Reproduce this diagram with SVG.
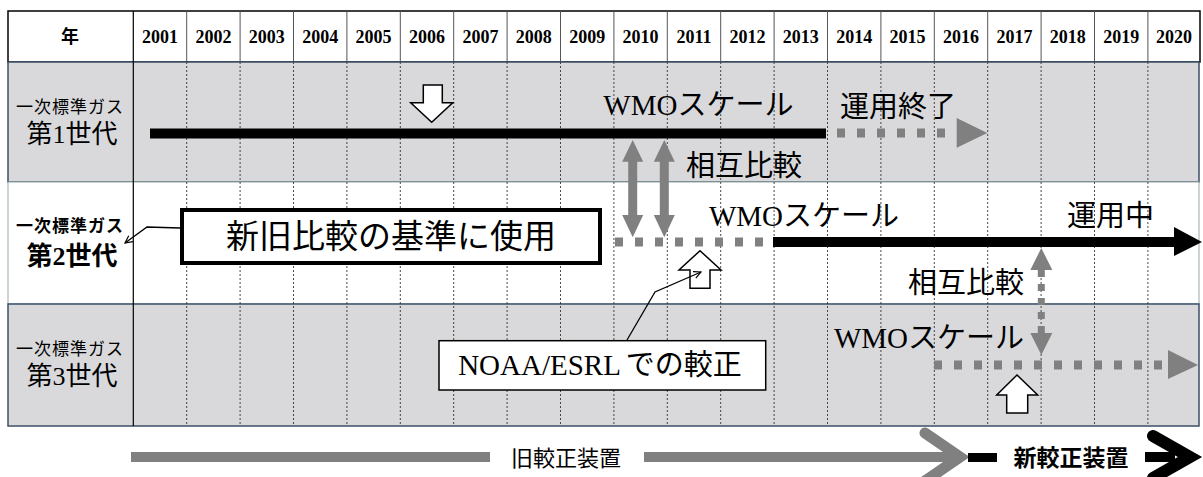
<svg xmlns="http://www.w3.org/2000/svg" width="1203" height="477" viewBox="0 0 1203 477">
<defs>
<style>
.jp{font-family:"Noto Sans CJK JP","Noto Sans",sans-serif;fill:#000}
.mx{font-family:"Liberation Serif","Noto Sans CJK JP",serif;fill:#000}
.yr{font-family:"Liberation Serif",serif;font-weight:bold;font-size:18px;text-anchor:middle;fill:#000}
.grid{stroke:#333;stroke-width:0.9;stroke-dasharray:2 2;fill:none}
.hline{stroke:#555;stroke-width:1;fill:none}
.grow{fill:#d9d9dc;stroke:#3b5068;stroke-width:1.5}
.wrow{fill:#fff;stroke:#9aa;stroke-width:1}
.dots{stroke:#808080;stroke-width:9;stroke-dasharray:8 12;fill:none}
.gfill{fill:#808080}
.blk{stroke:#000;stroke-width:10;fill:none}
.callout{stroke:#000;stroke-width:1.3;fill:none}
.warrow{fill:#fff;stroke:#000;stroke-width:1.5;stroke-linejoin:miter}
</style>
<marker id="openhead" viewBox="0 0 10 10" refX="9" refY="5" markerWidth="9" markerHeight="9" markerUnits="userSpaceOnUse" orient="auto">
<path d="M1,1 L9,5 L1,9" fill="none" stroke="#000" stroke-width="1.3"/>
</marker>
</defs>

<!-- table background -->
<g id="table">
<rect x="8" y="11" width="1192" height="51" fill="#fff" stroke="#000" stroke-width="1.5"/>
<rect id="row1" class="grow" x="8" y="62" width="1191" height="120"/>
<rect id="row2" class="wrow" x="8" y="182" width="1191" height="122"/>
<rect id="row3" class="grow" x="8" y="304" width="1191" height="122"/>
<line x1="133.3" y1="11" x2="133.3" y2="426" stroke="#000" stroke-width="1.2"/>
<g class="hline">
<line x1="186.7" y1="11" x2="186.7" y2="62"/><line x1="240.1" y1="11" x2="240.1" y2="62"/><line x1="293.5" y1="11" x2="293.5" y2="62"/><line x1="346.9" y1="11" x2="346.9" y2="62"/><line x1="400.3" y1="11" x2="400.3" y2="62"/><line x1="453.7" y1="11" x2="453.7" y2="62"/><line x1="507.1" y1="11" x2="507.1" y2="62"/><line x1="560.5" y1="11" x2="560.5" y2="62"/><line x1="613.9" y1="11" x2="613.9" y2="62"/><line x1="667.3" y1="11" x2="667.3" y2="62"/><line x1="720.7" y1="11" x2="720.7" y2="62"/><line x1="774.1" y1="11" x2="774.1" y2="62"/><line x1="827.5" y1="11" x2="827.5" y2="62"/><line x1="880.9" y1="11" x2="880.9" y2="62"/><line x1="934.3" y1="11" x2="934.3" y2="62"/><line x1="987.7" y1="11" x2="987.7" y2="62"/><line x1="1041.1" y1="11" x2="1041.1" y2="62"/><line x1="1094.5" y1="11" x2="1094.5" y2="62"/><line x1="1147.9" y1="11" x2="1147.9" y2="62"/>
</g>
<g class="grid">
<line x1="186.7" y1="62" x2="186.7" y2="426"/><line x1="240.1" y1="62" x2="240.1" y2="426"/><line x1="293.5" y1="62" x2="293.5" y2="426"/><line x1="346.9" y1="62" x2="346.9" y2="426"/><line x1="400.3" y1="62" x2="400.3" y2="426"/><line x1="453.7" y1="62" x2="453.7" y2="426"/><line x1="507.1" y1="62" x2="507.1" y2="426"/><line x1="560.5" y1="62" x2="560.5" y2="426"/><line x1="613.9" y1="62" x2="613.9" y2="426"/><line x1="667.3" y1="62" x2="667.3" y2="426"/><line x1="720.7" y1="62" x2="720.7" y2="426"/><line x1="774.1" y1="62" x2="774.1" y2="426"/><line x1="827.5" y1="62" x2="827.5" y2="426"/><line x1="880.9" y1="62" x2="880.9" y2="426"/><line x1="934.3" y1="62" x2="934.3" y2="426"/><line x1="987.7" y1="62" x2="987.7" y2="426"/><line x1="1041.1" y1="62" x2="1041.1" y2="426"/><line x1="1094.5" y1="62" x2="1094.5" y2="426"/><line x1="1147.9" y1="62" x2="1147.9" y2="426"/>
</g>
<text class="jp" x="70" y="43" font-size="18" font-weight="bold" text-anchor="middle">年</text>
<text class="yr" y="43"><tspan x="160">2001</tspan><tspan x="213.4">2002</tspan><tspan x="266.8">2003</tspan><tspan x="320.2">2004</tspan><tspan x="373.6">2005</tspan><tspan x="427">2006</tspan><tspan x="480.4">2007</tspan><tspan x="533.8">2008</tspan><tspan x="587.2">2009</tspan><tspan x="640.6">2010</tspan><tspan x="694">2011</tspan><tspan x="747.4">2012</tspan><tspan x="800.8">2013</tspan><tspan x="854.2">2014</tspan><tspan x="907.6">2015</tspan><tspan x="961">2016</tspan><tspan x="1014.4">2017</tspan><tspan x="1067.8">2018</tspan><tspan x="1121.2">2019</tspan><tspan x="1174">2020</tspan></text>
</g>

<!-- row labels -->
<g id="label1">
<text class="jp" x="70" y="113" font-size="17" letter-spacing="1" text-anchor="middle">一次標準ガス</text>
<text class="mx" x="72" y="143" font-size="26" text-anchor="middle">第1世代</text>
</g>
<g id="label2">
<text class="jp" x="70" y="232" font-size="17" font-weight="bold" letter-spacing="1" text-anchor="middle">一次標準ガス</text>
<text class="mx" x="72" y="265" font-size="26" font-weight="bold" text-anchor="middle">第2世代</text>
</g>
<g id="label3">
<text class="jp" x="70" y="355" font-size="17" letter-spacing="1" text-anchor="middle">一次標準ガス</text>
<text class="mx" x="72" y="385" font-size="26" text-anchor="middle">第3世代</text>
</g>

<!-- connectors / timeline lines -->
<g id="connectors">
<!-- gen 1 -->
<line class="blk" x1="150" y1="133.5" x2="826" y2="133.5"/>
<line class="dots" x1="837" y1="133" x2="950" y2="133"/>
<polygon class="gfill" points="956.7,118 987.3,133 956.7,147.7"/>
<!-- gen 2 -->
<line class="dots" x1="615" y1="242" x2="772" y2="242"/>
<line class="blk" x1="773" y1="242" x2="1176" y2="242"/>
<polygon fill="#000" points="1174,227 1202,242 1174,256"/>
<!-- gen 3 -->
<line class="dots" x1="934" y1="365" x2="1162" y2="365"/>
<polygon class="gfill" points="1168,350 1198,365 1168,379"/>
<!-- double arrows gen1-gen2 -->
<polygon class="gfill" points="632.7,140 643.2,161.7 637.2,161.7 637.2,215 643.2,215 632.7,237.3 622.2,215 628.2,215 628.2,161.7 622.2,161.7"/>
<polygon class="gfill" points="664.3,140 674.8,161.7 668.8,161.7 668.8,215 674.8,215 664.3,237.3 653.8,215 659.8,215 659.8,161.7 653.8,161.7"/>
<!-- dotted double arrow gen2-gen3 -->
<polygon class="gfill" points="1041.3,248 1052.3,270 1030.3,270"/>
<line x1="1041.3" y1="270" x2="1041.3" y2="334" stroke="#808080" stroke-width="7" stroke-dasharray="7 7"/>
<polygon class="gfill" points="1030.3,333 1052.3,333 1041.3,355"/>
<!-- white block arrows -->
<polygon class="warrow" points="423.3,85 442.3,85 442.3,102.7 452.7,102.7 431.7,122.3 410.7,102.7 423.3,102.7"/>
<polygon class="warrow" points="700,250.7 721,270 710,270 710,288.3 690,288.3 690,270 679,270"/>
<polygon class="warrow" points="1017,375 1037.7,395 1027.7,395 1027.7,413 1006.7,413 1006.7,395 996.7,395"/>
<!-- callouts -->
<polyline class="callout" points="180,228 147,227 125,243" marker-end="url(#openhead)"/>
<polyline class="callout" points="627,340 655,292 701,272" marker-end="url(#openhead)"/>
<!-- bottom arrows -->
<rect x="131" y="452" width="359" height="10" fill="#808080"/>
<rect x="644" y="452" width="312" height="10" fill="#808080"/>
<polyline points="925,433 960,457 925,481" fill="none" stroke="#808080" stroke-width="11" stroke-linecap="round" stroke-linejoin="miter"/>
<rect x="968" y="453" width="29" height="9" fill="#000"/>
<rect x="1145" y="452" width="30" height="10" fill="#000"/>
<polyline points="1153,436 1190,457 1153,478" fill="none" stroke="#000" stroke-width="12" stroke-linecap="round" stroke-linejoin="miter"/>
</g>

<!-- annotation texts -->
<g id="notes">
<text class="mx" x="698.4" y="115" font-size="29" text-anchor="middle">WMOスケール</text>
<text class="jp" x="898" y="117" font-size="29" text-anchor="middle">運用終了</text>
<text class="jp" x="744" y="176" font-size="29" text-anchor="middle">相互比較</text>
<text class="mx" x="804" y="226" font-size="29" text-anchor="middle">WMOスケール</text>
<text class="jp" x="1110.5" y="226" font-size="29" text-anchor="middle">運用中</text>
<text class="jp" x="966" y="293" font-size="29" text-anchor="middle">相互比較</text>
<text class="mx" x="929" y="348" font-size="29" text-anchor="middle">WMOスケール</text>
</g>

<g id="box-basis">
<rect x="182" y="210" width="418" height="53" fill="#fff" stroke="#000" stroke-width="4"/>
<text class="jp" x="391" y="248" font-size="33" text-anchor="middle">新旧比較の基準に使用</text>
</g>

<g id="box-noaa">
<rect x="439" y="340.7" width="326.7" height="49.3" fill="#fff" stroke="#000" stroke-width="1.5"/>
<text class="mx" x="600" y="375" font-size="29" text-anchor="middle">NOAA/ESRL<tspan dx="5">での較正</tspan></text>
</g>

<g id="bottom-labels">
<text class="jp" x="566" y="466" font-size="22" text-anchor="middle">旧較正装置</text>
<text class="jp" x="1071" y="466" font-size="23" font-weight="bold" text-anchor="middle">新較正装置</text>
</g>
</svg>
